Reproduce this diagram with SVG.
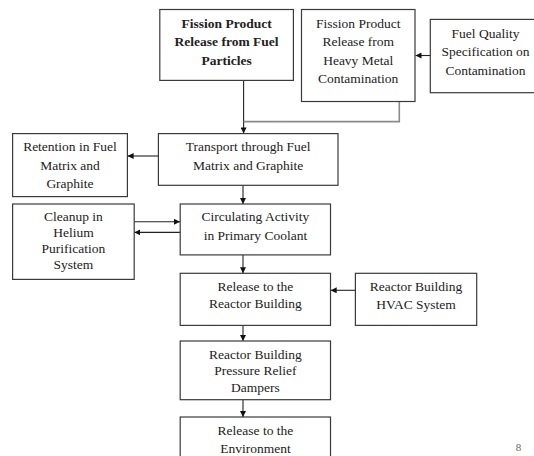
<svg xmlns="http://www.w3.org/2000/svg" width="534" height="456" viewBox="0 0 534 456">
<style>
.box{fill:#fff;stroke:#3a3a3a;stroke-width:1.2}
text{font-family:'Liberation Serif','Times New Roman','DejaVu Serif',serif;font-size:13.5px;fill:#222;text-anchor:middle}
.b{font-weight:bold}
.c{fill:none;stroke:#222;stroke-width:1.1}
.g{fill:none;stroke:#8a8a8a;stroke-width:1.6}
</style>
<defs>
<marker id="ah" viewBox="0 0 10 10" refX="10" refY="5" markerWidth="6" markerHeight="6" markerUnits="userSpaceOnUse" orient="auto">
<path d="M0,0 L10,5 L0,10 z" fill="#111"/>
</marker>
</defs>
<rect width="534" height="456" fill="#fff"/>
<g id="connectors">
<path class="c" d="M243.6,80.4 V133.4" marker-end="url(#ah)"/>
<path class="g" d="M399.3,101.5 V121.6 H243.6"/>
<path class="c" d="M430.3,55.5 H415.5" marker-end="url(#ah)"/>
<path class="c" d="M158.4,156 H127.6" marker-end="url(#ah)"/>
<path class="c" d="M243,185.3 V204" marker-end="url(#ah)"/>
<path class="c" d="M134.2,221.8 H180" marker-end="url(#ah)"/>
<path class="c" d="M180.2,232.4 H134.4" marker-end="url(#ah)"/>
<path class="c" d="M243,255 V273.2" marker-end="url(#ah)"/>
<path class="c" d="M355.4,290.3 H330.7" marker-end="url(#ah)"/>
<path class="c" d="M243,325.4 V341" marker-end="url(#ah)"/>
<path class="c" d="M243,399.7 V417" marker-end="url(#ah)"/>
</g>
<g id="n1" font-family="Liberation Serif, serif">
<rect class="box" x="159.8" y="9.5" width="133.6" height="70.9"/>
<text class="b" x="226.6" y="27.5">Fission Product</text>
<text class="b" x="226.6" y="46">Release from Fuel</text>
<text class="b" x="226.6" y="64.5">Particles</text>
</g>
<g id="n2">
<rect class="box" x="301.5" y="9.5" width="113.5" height="92"/>
<text x="358.2" y="27.5">Fission Product</text>
<text x="358.2" y="46">Release from</text>
<text x="358.2" y="64.5">Heavy Metal</text>
<text x="358.2" y="83">Contamination</text>
</g>
<g id="n3">
<rect class="box" x="430.3" y="19.4" width="112" height="73.3"/>
<text x="485.5" y="37.5">Fuel Quality</text>
<text x="485.5" y="56">Specification on</text>
<text x="485.5" y="74.5">Contamination</text>
</g>
<g id="n4">
<rect class="box" x="158.4" y="133.6" width="179.6" height="51.7"/>
<text x="248.2" y="151">Transport through Fuel</text>
<text x="248.2" y="169.5">Matrix and Graphite</text>
</g>
<g id="n5">
<rect class="box" x="12.6" y="133.6" width="114.8" height="63"/>
<text x="70" y="151">Retention in Fuel</text>
<text x="70" y="169.5">Matrix and</text>
<text x="70" y="188">Graphite</text>
</g>
<g id="n6">
<rect class="box" x="12.6" y="204" width="121.6" height="75.4"/>
<text x="73.4" y="221">Cleanup in</text>
<text x="73.4" y="237">Helium</text>
<text x="73.4" y="253">Purification</text>
<text x="73.4" y="269">System</text>
</g>
<g id="n7">
<rect class="box" x="180.2" y="204" width="150.3" height="50.9"/>
<text x="255.4" y="221">Circulating Activity</text>
<text x="255.4" y="239.5">in Primary Coolant</text>
</g>
<g id="n8">
<rect class="box" x="180.2" y="273.3" width="150.3" height="52.1"/>
<text x="255.4" y="291">Release to the</text>
<text x="255.4" y="308">Reactor Building</text>
</g>
<g id="n9">
<rect class="box" x="355.4" y="273.3" width="121.3" height="52.1"/>
<text x="416" y="291">Reactor Building</text>
<text x="416" y="308.5">HVAC System</text>
</g>
<g id="n10">
<rect class="box" x="180.2" y="341" width="150.3" height="58.7"/>
<text x="255.4" y="359">Reactor Building</text>
<text x="255.4" y="375">Pressure Relief</text>
<text x="255.4" y="391.5">Dampers</text>
</g>
<g id="n11">
<rect class="box" x="180.2" y="417" width="150.3" height="50"/>
<text x="255.4" y="435">Release to the</text>
<text x="255.4" y="453">Environment</text>
</g>
<text x="518.5" y="451" style="font-size:11px;fill:#666">8</text>
</svg>
